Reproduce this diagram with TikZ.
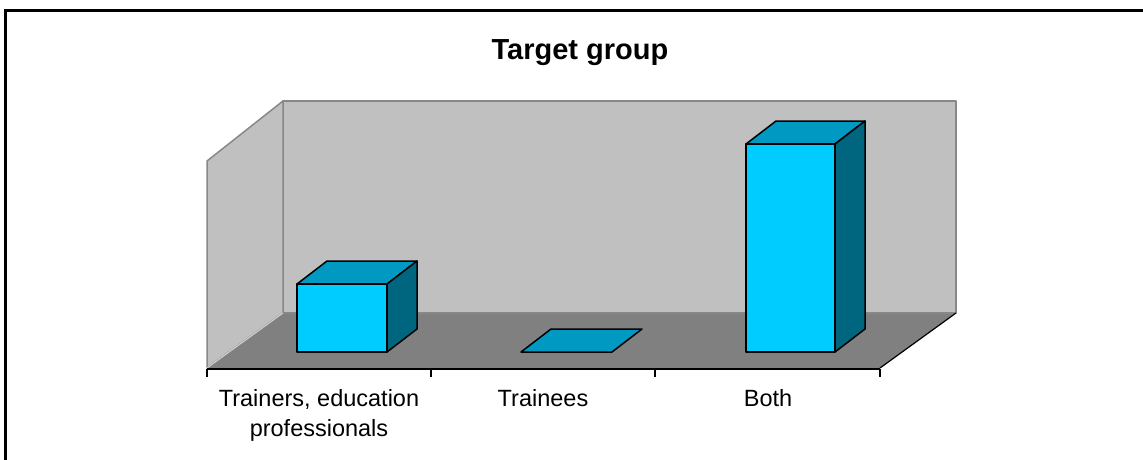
\documentclass[tikz,border=0pt]{standalone}
\usepackage{fontspec}
\setmainfont{Liberation Sans}
\definecolor{barfront}{HTML}{00CCFF}
\definecolor{bartop}{HTML}{0099C2}
\definecolor{barside}{HTML}{006680}
\definecolor{wallgray}{HTML}{C0C0C0}
\definecolor{floorgray}{HTML}{808080}
\definecolor{edgegray}{HTML}{888888}
\tikzset{
  barface/.style={draw=black,line width=1.5pt,line join=round},
  wall/.style={fill=wallgray,draw=edgegray,line width=1.5pt,line join=round},
  catlabel/.style={anchor=base,inner sep=0pt,font=\fontsize{23.5}{30}\selectfont},
  axisline/.style={draw=black,line width=2pt},
}
\begin{document}
\begin{tikzpicture}[x=1pt,y=-1pt]
\useasboundingbox (0,0) rectangle (1143,459);
% outer frame
\draw[line width=2.2pt] (5.5,1000) -- (5.5,10.5) -- (1200,10.5);
% title
\node[anchor=base,inner sep=0pt,font=\fontsize{29}{32}\selectfont\bfseries] (title) at (580,59) {Target group};
% walls
\draw[wall] (283,101) rectangle (956,313);
\draw[wall] (207,161) -- (283,101) -- (283,313) -- (207,368) -- cycle;
% floor
\fill[floorgray] (207,368) -- (283,313) -- (956,313) -- (880,368) -- cycle;
\draw[edgegray,line width=1.5pt] (283,313) -- (956,313);
\draw[wallgray!70!white,line width=1pt] (207,368) -- (283,313);
\draw[black,line width=1.2pt] (880,368) -- (956,313);
% axis
\coordinate (a0) at (207,369);
\coordinate (a1) at (431,369);
\coordinate (a2) at (655,369);
\coordinate (a3) at (880,369);
\draw[axisline] (a0) -- (a3);
\foreach \t in {a0,a1,a2,a3} \draw[axisline] (\t) -- ++(0,8);
% bar 1
\draw[barface,fill=bartop] (297,284) -- (327,261) -- (417,261) -- (387,284) -- cycle;
\draw[barface,fill=barside] (387,284) -- (417,261) -- (417,329) -- (387,352) -- cycle;
\draw[barface,fill=barfront] (297,284) rectangle (387,352);
% bar 2 (zero height)
\draw[barface,fill=bartop] (521,352) -- (551,329) -- (642,329) -- (612,352) -- cycle;
% bar 3
\draw[barface,fill=bartop] (746,144) -- (776,121) -- (865,121) -- (835,144) -- cycle;
\draw[barface,fill=barside] (835,144) -- (865,121) -- (865,329) -- (835,352) -- cycle;
\draw[barface,fill=barfront] (746,144) rectangle (835,352);
% labels
\node[catlabel] (l1a) at (319,406.5) {Trainers, education};
\node[catlabel] (l1b) at (319,436.5) {professionals};
\node[catlabel] (l2) at (543,406.5) {Trainees};
\node[catlabel] (l3) at (768,406.5) {Both};
\end{tikzpicture}
\end{document}
